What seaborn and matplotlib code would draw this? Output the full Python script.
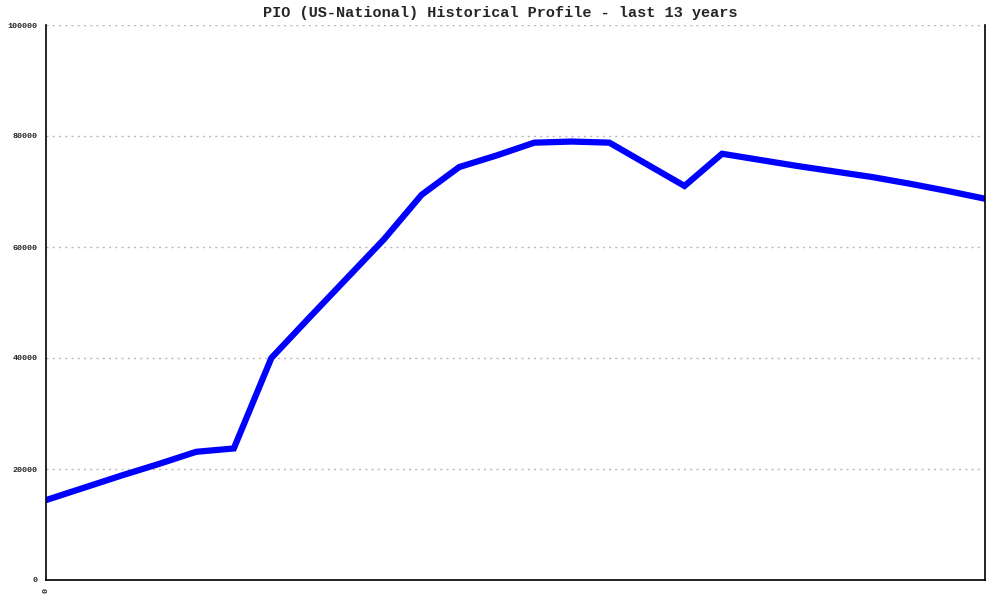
import matplotlib
matplotlib.use("Agg")
import matplotlib.pyplot as plt
import seaborn as sns
import pandas as pd

title = "PIO (US-National) Historical Profile - last 13 years"
period = list(range(26))
values = [14.4, 16.6, 18.8, 20.9, 23.1, 23.7, 40.0, 47.2, 54.3, 61.4, 69.4,
          74.4, 76.5, 78.8, 79.0, 78.8, 74.9, 71.0, 76.8, 75.7, 74.6, 73.6,
          72.6, 71.4, 70.1, 68.7]
values = [v * 1000 for v in values]
y_ticks = [0, 20000, 40000, 60000, 80000, 100000]
x_ticks = [0]
x_tick_labels = ["0"]

df = pd.DataFrame({"period": period, "value": values})

sns.set_style("white")
plt.rcParams['font.family'] = ['Liberation Mono', 'DejaVu Sans Mono']

fig = plt.figure(figsize=(10, 6), dpi=100)
ax = fig.add_axes([0.046, 1 - 580 / 600, 0.939, 555 / 600])

sns.lineplot(data=df, x="period", y="value", ax=ax, color="#0000ff",
             linewidth=4.5, solid_joinstyle="miter")

ax.set_xlim(0, 25)
ax.set_ylim(0, 100000)
ax.set_yticks(y_ticks)
ax.set_yticklabels([str(t) for t in y_ticks], fontsize=6, fontweight="bold")
ax.set_xticks(x_ticks)
ax.set_xticklabels(x_tick_labels, rotation=90, fontsize=6, fontweight="bold")
ax.set_xlabel("")
ax.set_ylabel("")
ax.yaxis.grid(True, linestyle=(0, (1.5, 3)), color="#b8b8b8", linewidth=1.0)
ax.set_axisbelow(True)
ax.tick_params(axis="both", which="both", length=4, width=1, color="black",
               direction="out", pad=2)
for s in ["left", "bottom", "right"]:
    ax.spines[s].set_visible(True)
    ax.spines[s].set_color("black")
    ax.spines[s].set_linewidth(1.2)
ax.spines["top"].set_visible(False)

fig.text(0.5, 1 - 13 / 600, title, ha="center", va="center", fontsize=11,
         fontweight="bold")

fig.savefig("out.png", dpi=100, facecolor="white")
